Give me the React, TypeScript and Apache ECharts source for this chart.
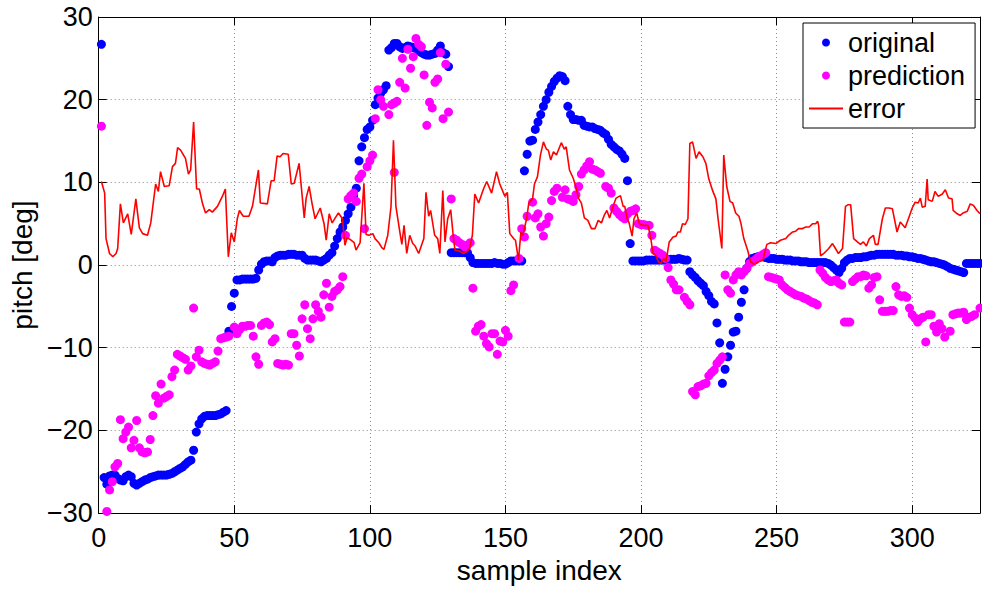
import React, { useEffect, useRef } from "react";
import * as echarts from "echarts";

// x axis ticks and y axis ticks
const xTickStep = 50;
const xMax = 325;
const yMin = -30;
const yMax = 30;
const yTickStep = 10;

const seriesNames = ["original", "prediction", "error"];

// original pitch, samples 1..325
const original: number[] = [
  26.7, -25.7, -26.5, -25.5, -25.4, -25.4, -25.8, -26.0, -26.1, -25.6,
  -25.4, -25.6, -26.4, -26.6, -26.4, -26.2, -26.0, -25.9, -25.7, -25.6,
  -25.5, -25.4, -25.4, -25.4, -25.4, -25.3, -25.2, -25.0, -24.8, -24.6,
  -24.4, -24.1, -23.8, -23.6, -22.4, -20.2, -19.2, -18.6, -18.3, -18.2,
  -18.2, -18.2, -18.2, -18.1, -18.0, -17.8, -17.6, -8.0, -5.0, -3.4,
  -1.8, -1.8, -1.7, -1.7, -1.7, -1.7, -1.7, -1.6, -0.6, 0.1,
  0.4, 0.5, 0.5, 0.4, 0.9, 1.1, 1.2, 1.2, 1.2, 1.3,
  1.3, 1.3, 1.2, 1.2, 1.2, 0.8, 0.6, 0.6, 0.6, 0.6,
  0.5, 0.4, 0.6, 0.8, 1.2, 1.5, 2.3, 3.2, 4.0, 4.6,
  5.4, 6.2, 7.0, 8.4, 9.3, 12.6, 14.3, 15.4, 16.4, 16.7,
  17.5, 19.4, 20.2, 20.8, 21.2, 21.7, 26.0, 26.3, 26.8, 26.8,
  26.4, 26.2, 26.3, 26.5, 26.4, 26.3, 26.2, 25.9, 25.7, 25.5,
  25.4, 25.4, 25.5, 25.6, 26.0, 26.5, 25.7, 25.5, 24.0, 1.5,
  1.5, 1.5, 1.5, 1.5, 1.5, 1.5, 0.9, 0.3, 0.2, 0.2,
  0.2, 0.2, 0.2, 0.2, 0.2, 0.3, 0.2, 0.2, 0.1, 0.1,
  0.3, 0.5, 0.5, 0.5, 0.5, 0.5, 11.4, 13.4, 15.0, 15.1,
  16.4, 17.3, 18.2, 19.2, 20.0, 20.9, 21.6, 22.2, 22.6, 22.9,
  22.8, 22.3, 19.2, 18.2, 17.6, 17.6, 17.5, 17.5, 16.9, 16.8,
  16.7, 16.7, 16.5, 16.4, 16.3, 16.0, 15.8, 15.2, 14.6, 14.3,
  14.0, 13.8, 13.4, 12.9, 10.2, 2.6, 0.5, 0.5, 0.5, 0.5,
  0.5, 0.6, 0.6, 0.6, 0.6, 0.6, 0.6, 0.6, 0.6, 0.7,
  0.7, 0.7, 0.7, 0.8, 0.7, 0.6, 0.6, -0.8, -1.2, -1.5,
  -1.9, -2.2, -2.5, -3.2, -3.7, -4.4, -4.7, -7.0, -9.4, -14.3,
  -12.6, -11.1, -9.7, -8.1, -8.0, -6.3, -4.5, -3.0, -0.4, 0.4,
  0.8, 0.9, 1.0, 1.0, 1.0, 0.9, 0.8, 0.8, 0.8, 0.7,
  0.7, 0.7, 0.6, 0.6, 0.6, 0.5, 0.5, 0.5, 0.4, 0.4,
  0.4, 0.3, 0.3, 0.3, 0.3, 0.3, 0.3, 0.3, 0.2, 0.0,
  -0.3, -0.6, -0.9, -0.4, 0.3, 0.6, 0.8, 0.8, 0.9, 0.9,
  0.9, 1.0, 1.0, 1.1, 1.2, 1.2, 1.3, 1.3, 1.3, 1.3,
  1.3, 1.3, 1.3, 1.2, 1.2, 1.2, 1.1, 1.1, 1.0, 1.0,
  0.9, 0.8, 0.8, 0.7, 0.6, 0.5, 0.4, 0.4, 0.3, 0.2,
  0.1, 0.0, -0.2, -0.4, -0.5, -0.6, -0.7, -0.8, -0.9, 0.2,
  0.2, 0.2, 0.2, 0.2, 0.2,
];

// prediction: [sample index, pitch]
const prediction: [number, number][] = [
  [1, 16.8], [3, -29.8], [4, -27.2], [5, -26.2], [6, -24.4], [7, -24.0], [8, -18.7], [9, -21.0], [10, -20.2],
  [11, -19.6], [12, -22.1], [13, -21.2], [14, -18.8], [15, -22.1], [16, -22.6], [17, -22.7], [18, -22.6],
  [19, -21.1], [20, -18.2], [21, -15.8], [22, -16.7], [23, -14.4], [24, -16.1], [25, -15.9], [26, -15.7],
  [27, -13.5], [28, -12.7], [29, -10.8], [30, -11.0], [31, -11.2], [32, -11.4], [33, -12.7], [34, -12.2],
  [35, -5.2], [36, -11.1], [37, -10.3], [38, -11.7], [39, -11.9], [40, -12.0], [41, -12.1], [42, -11.9],
  [43, -11.7], [44, -10.4], [45, -8.9], [46, -8.8], [47, -8.7], [48, -8.6], [50, -7.5], [51, -8.3],
  [52, -7.8], [53, -7.4], [54, -7.4], [55, -7.3], [56, -7.3], [57, -8.6], [58, -11.1], [59, -12.0],
  [60, -7.3], [61, -7.0], [62, -6.9], [63, -7.2], [64, -9.3], [65, -8.9], [66, -11.9], [67, -12.0],
  [68, -12.1], [69, -12.0], [70, -12.1], [71, -8.3], [72, -8.3], [73, -9.7], [74, -11.0], [75, -6.5],
  [76, -4.8], [77, -7.7], [78, -8.9], [79, -6.5], [80, -4.8], [81, -5.6], [82, -6.3], [83, -3.6],
  [84, -2.2], [85, -5.1], [86, -3.8], [87, -3.2], [88, -3.0], [89, -2.6], [90, -1.4], [91, 3.6],
  [92, 8.0], [93, 8.4], [94, 8.7], [95, 7.7], [96, 10.5], [97, 11.0], [98, 4.4], [99, 11.9],
  [100, 12.6], [101, 13.3], [102, 17.7], [103, 21.2], [104, 20.0], [105, 19.2], [107, 18.2], [108, 19.4],
  [109, 11.2], [109, 19.6], [110, 19.8], [111, 22.1], [112, 25.0], [113, 21.4], [114, 26.1], [115, 23.8],
  [116, 25.2], [117, 27.4], [118, 26.7], [119, 26.4], [120, 23.0], [121, 16.9], [122, 19.7], [123, 19.0],
  [124, 22.1], [125, 22.5], [126, 25.7], [127, 17.7], [128, 24.3], [129, 18.5], [130, 8.0], [131, 3.2],
  [132, 3.0], [133, 2.7], [134, 2.5], [135, 2.2], [136, 2.4], [137, 2.7], [138, -2.8], [139, -8.0],
  [140, -7.4], [141, -7.2], [142, -8.6], [143, -9.5], [144, -9.9], [145, -8.3], [146, -8.3], [147, -10.8],
  [148, -9.2], [149, -9.3], [150, -7.9], [151, -8.6], [152, -3.1], [153, -2.4], [155, 0.8], [156, 4.4],
  [157, 3.4], [158, 5.9], [160, 7.6], [161, 5.7], [162, 6.2], [163, 4.6], [164, 3.5], [165, 5.0],
  [166, 5.8], [167, 7.8], [168, 8.9], [169, 9.3], [171, 8.2], [172, 9.1], [173, 8.0], [174, 7.9],
  [175, 7.7], [176, 8.5], [177, 9.5], [178, 11.0], [179, 11.5], [180, 12.0], [181, 12.5], [182, 11.6],
  [183, 11.5], [184, 11.3], [185, 11.1], [187, 9.5], [188, 9.3], [189, 8.7], [190, 6.9], [191, 6.5],
  [192, 6.1], [193, 5.8], [194, 5.6], [195, 6.2], [196, 6.5], [197, 6.6], [198, 6.8], [199, 5.0],
  [200, 4.9], [201, 4.9], [202, 4.8], [203, 4.8], [204, 3.6], [205, 1.8], [206, 1.6], [207, 1.4],
  [208, 1.2], [209, 0.8], [210, -0.3], [211, -1.8], [212, -2.3], [213, -3.0], [214, -3.0], [216, -3.9],
  [217, -4.4], [218, -4.8], [219, -15.3], [220, -15.7], [221, -14.7], [222, -14.6], [223, -14.4], [224, -14.3],
  [225, -13.4], [226, -13.0], [227, -12.7], [228, -11.9], [229, -11.5], [230, -11.1], [231, -1.2], [232, -3.0],
  [233, -3.4], [234, -1.8], [235, -1.2], [236, -0.8], [237, -1.2], [238, -0.8], [239, -0.4], [240, 0.2],
  [241, 0.4], [242, 0.6], [243, 0.9], [244, 1.1], [245, 1.3], [246, 1.5], [247, -1.4], [248, -1.5],
  [249, -1.6], [250, -1.7], [251, -1.8], [252, -2.4], [253, -2.7], [254, -3.0], [255, -3.2], [256, -3.4],
  [257, -3.6], [258, -3.7], [259, -3.8], [260, -4.0], [261, -4.1], [262, -4.3], [263, -4.5], [264, -4.6],
  [265, -4.8], [266, -0.6], [267, -1.0], [268, -1.5], [269, -1.8], [270, -2.0], [271, -1.9], [272, -1.8],
  [273, -2.2], [274, -2.4], [275, -6.9], [276, -6.9], [277, -6.9], [278, -2.0], [279, -1.7], [280, -1.4],
  [281, -1.4], [282, -1.2], [283, -1.3], [284, -2.8], [285, -2.4], [286, -1.5], [287, -1.4], [288, -4.2],
  [289, -5.6], [290, -5.6], [291, -5.6], [292, -5.5], [293, -5.5], [294, -2.6], [295, -3.6], [296, -3.8],
  [297, -3.7], [298, -3.9], [299, -5.2], [300, -6.0], [301, -6.4], [302, -6.9], [303, -6.5], [304, -6.3],
  [305, -9.3], [306, -6.0], [307, -6.0], [308, -7.4], [309, -8.1], [310, -7.1], [311, -7.7], [312, -8.7],
  [314, -8.0], [315, -6.0], [316, -5.9], [317, -5.8], [318, -5.8], [319, -5.7], [320, -6.6], [321, -6.3],
  [322, -6.2], [323, -6.0], [325, -5.2],
];

// error: [sample index, value]
const errorLine: [number, number][] = [
  [1, 10.1], [2.2, 8.7], [2.7, 3.2], [4, 1.4], [5.2, 1.0], [6.4, 1.4], [7, 2.0], [8, 7.4], [9.1, 5.1],
  [10.7, 6.2], [12, 3.7], [13.7, 8.0], [15, 4.5], [16.2, 3.8], [18, 3.6], [19.2, 5.1], [21, 9.8], [22, 8.9],
  [22.8, 11.3], [24.2, 9.5], [26, 9.6], [27.2, 11.9], [28.3, 12.3], [29.1, 14.2], [30.2, 13.9], [32, 12.9],
  [33.1, 11.0], [33.9, 11.5], [35, 17.3], [36.1, 9.2], [37.1, 9.2], [38.3, 7.4], [39.4, 6.3], [40.8, 6.7],
  [41.9, 6.4], [43.8, 7.1], [45.6, 8.3], [46.7, 9.2], [47.8, 1.0], [48.9, 3.9], [50, 2.8], [51.1, 5.6],
  [51.9, 6.6], [53.3, 5.9], [55.4, 5.9], [56.7, 7.1], [58.9, 11.5], [59.6, 7.5], [62.2, 7.4], [63.6, 10.2],
  [64.7, 10.2], [65.8, 13.2], [66.9, 13.1], [68, 13.5], [69.9, 13.4], [71, 9.8], [72.1, 9.9], [73.9, 12.3],
  [75.8, 5.7], [76.5, 8.1], [77.6, 9.5], [78.7, 7.4], [79.8, 5.6], [81.7, 6.9], [83.1, 5.0], [83.9, 3.0],
  [85, 6.2], [86.1, 5.1], [87.4, 5.8], [88.4, 6.3], [89.9, 5.6], [90.8, 2.4], [91.6, 3.3], [92.7, 3.1],
  [94.2, 2.7], [94.9, 1.8], [96.4, 2.7], [97.8, 9.9], [98.6, 3.7], [99.7, 3.6], [101.1, 3.8], [101.9, 3.2],
  [103.3, 2.7], [104.4, 2.1], [105.2, 1.9], [106.6, 3.6], [107.8, 7.1], [108.7, 15.1], [109.6, 7.1],
  [111.1, 3.9], [111.8, 2.5], [112.6, 4.8], [113.6, 1.4], [114.7, 3.6], [115.8, 2.6], [116.7, 2.3],
  [118, 1.4], [119.9, 3.2], [120.7, 8.8], [121.7, 5.9], [122.4, 6.6], [123.9, 3.6], [125, 3.2],
  [125.8, 1.4], [126.9, 9.0], [127.7, 2.8], [128.7, 5.6], [129.8, 6.7], [130.9, 3.0], [131.4, 1.8],
  [133.1, 1.7], [134.4, 1.4], [135.7, 1.6], [136.8, 2.0], [137.8, 3.6], [138.7, 8.6], [140.1, 7.5],
  [141.9, 9.2], [143.1, 10.1], [144.9, 8.7], [146.7, 11.3], [147.9, 9.8], [149.8, 8.3], [150.7, 8.8],
  [151.6, 3.8], [153, 3.2], [153.7, 3.0], [154.8, 0.6], [155.7, 4.0], [156.4, 3.6], [157.8, 5.6],
  [158.6, 7.5], [160, 8.0], [160.7, 9.8], [161.8, 10.7], [162.9, 13.3], [164, 14.9], [165.1, 14.0],
  [165.8, 13.9], [166.7, 12.7], [167.7, 13.7], [168.8, 13.3], [170.6, 14.8], [171.7, 14.0], [172.4, 14.3],
  [173.6, 11.5], [175, 10.5], [176.1, 9.3], [176.9, 8.1], [178, 7.5], [179.1, 5.7], [180.4, 5.4],
  [181.7, 4.4], [183, 4.4], [184.2, 5.4], [185.4, 5.1], [186.4, 6.0], [187.4, 6.6], [188.4, 5.7],
  [189.7, 7.1], [190.8, 8.1], [192.4, 8.4], [193.4, 7.1], [194, 7.1], [194.9, 5.6], [195.6, 5.1],
  [196.7, 3.5], [197.4, 5.6], [198.4, 6.3], [199.4, 5.0], [200.8, 4.8], [202.6, 4.8], [203.7, 3.0],
  [204.4, 1.4], [205.4, 1.2], [206.4, 0.4], [207.4, 0.2], [208.4, 0.8], [209.2, 0.4], [210.4, 2.8],
  [211.8, 3.4], [212.9, 3.5], [213.6, 4.0], [214.5, 4.0], [215.3, 5.0], [216.3, 4.9], [217.3, 5.6],
  [218, 14.7], [219, 14.9], [220.3, 12.9], [221.4, 13.7], [222.8, 13.1], [223.9, 12.3], [225, 10.4],
  [226.4, 9.0], [227.6, 8.0], [228.4, 5.6], [229.8, 2.0], [230.5, 13.3], [231.6, 9.5], [232.8, 7.7],
  [233.8, 7.5], [234.9, 6.3], [236.1, 5.9], [236.8, 5.1], [237.9, 3.2], [239.4, 1.7], [240.4, 0.4],
  [241.6, 0.1], [243.4, 0.4], [244.9, 0.6], [245.6, 1.5], [246.4, 2.5], [247.8, 2.7], [249.7, 2.6],
  [251.4, 3.0], [253.4, 3.2], [254.4, 3.6], [255.9, 4.0], [257, 4.1], [258.1, 4.4], [259.4, 4.4],
  [260.7, 4.6], [262, 4.6], [263.3, 5.0], [264.4, 5.0], [265.1, 5.3], [265.5, 4.8], [266.2, 1.1],
  [267.4, 1.4], [269.2, 2.0], [270.6, 2.6], [271.7, 2.0], [272.8, 1.4], [274.3, 2.0], [275.4, 7.1],
  [276.4, 7.3], [277.3, 7.3], [278.4, 3.2], [279.8, 2.8], [280.9, 2.5], [282, 2.8], [283.1, 2.3],
  [284.2, 3.2], [285.7, 3.6], [286.4, 2.5], [287.4, 2.5], [289, 5.6], [290.1, 6.9], [291.4, 6.9],
  [292.7, 6.8], [294.4, 4.0], [295.6, 5.2], [297.4, 4.5], [298.6, 5.6], [300, 6.9], [301.1, 7.6],
  [302.2, 7.5], [303, 8.1], [303.7, 7.0], [304.8, 7.1], [305.5, 10.4], [305.9, 7.9], [307.4, 7.7],
  [308.4, 8.9], [309.6, 8.3], [311.1, 8.6], [312.2, 9.1], [313.4, 8.1], [314.7, 8.0], [315.1, 6.6],
  [316.6, 6.2], [317.7, 6.0], [318.8, 6.3], [320.3, 6.5], [321.4, 7.4], [322.6, 7.2], [323.9, 6.6],
  [325, 6.2],
];

const FONT = "'Liberation Sans', Arial, Helvetica, sans-serif";

export default function App() {
  const ref = useRef<HTMLDivElement>(null);
  useEffect(() => {
    if (!ref.current) return;
    const chart = echarts.init(ref.current, null, { renderer: "svg" });
    const axisLineStyle = { color: "#000", width: 1 };
    const minusFmt = (v: number) => String(v).replace("-", "\u2212");
    chart.setOption({
      animation: false,
      backgroundColor: "#fff",
      grid: { left: 96, right: 2, top: 17, bottom: 68, containLabel: false },
      legend: {
        orient: "vertical",
        left: 803,
        top: 23,
        itemWidth: 34,
        itemHeight: 8,
        itemGap: 6,
        padding: [6, 10, 6, 5],
        backgroundColor: "#fff",
        borderColor: "#000",
        borderWidth: 1,
        borderRadius: 0,
        textStyle: { fontSize: 27, color: "#000", fontFamily: FONT },
        data: [
          { name: seriesNames[0], icon: "circle" },
          { name: seriesNames[1], icon: "circle" },
          { name: seriesNames[2], itemStyle: { opacity: 0 } },
        ],
      },
      xAxis: [
        {
          type: "value",
          min: 0,
          max: xMax,
          interval: xTickStep,
          position: "bottom",
          name: "sample index",
          nameLocation: "middle",
          nameGap: 28,
          nameTextStyle: { fontSize: 28, color: "#000", fontFamily: FONT },
          axisLine: { show: true, onZero: false, lineStyle: axisLineStyle },
          axisTick: { show: true, inside: true, length: 8, lineStyle: axisLineStyle },
          axisLabel: {
            fontSize: 27,
            color: "#000",
            fontFamily: FONT,
            margin: 11,
            showMaxLabel: false,
          },
          splitLine: { show: true, lineStyle: { color: "#8a8a8a", type: [1, 3], width: 1 } },
        },
        {
          type: "value",
          min: 0,
          max: xMax,
          interval: xTickStep,
          position: "top",
          axisLine: { show: true, onZero: false, lineStyle: axisLineStyle },
          axisTick: { show: true, inside: true, length: 8, lineStyle: axisLineStyle },
          axisLabel: { show: false },
          splitLine: { show: false },
        },
      ],
      yAxis: [
        {
          type: "value",
          min: yMin,
          max: yMax,
          interval: yTickStep,
          position: "left",
          name: "pitch [deg]",
          nameLocation: "middle",
          nameGap: 54,
          nameTextStyle: { fontSize: 28, color: "#000", fontFamily: FONT },
          axisLine: { show: true, onZero: false, lineStyle: axisLineStyle },
          axisTick: { show: true, inside: true, length: 8, lineStyle: axisLineStyle },
          axisLabel: { fontSize: 27, color: "#000", fontFamily: FONT, margin: 6, formatter: minusFmt },
          splitLine: { show: true, lineStyle: { color: "#8a8a8a", type: [1, 3], width: 1 } },
        },
        {
          type: "value",
          min: yMin,
          max: yMax,
          interval: yTickStep,
          position: "right",
          axisLine: { show: true, onZero: false, lineStyle: axisLineStyle },
          axisTick: { show: true, inside: true, length: 8, lineStyle: axisLineStyle },
          axisLabel: { show: false },
          splitLine: { show: false },
        },
      ],
      series: [
        {
          name: seriesNames[0],
          type: "scatter",
          xAxisIndex: 0,
          yAxisIndex: 0,
          symbol: "circle",
          symbolSize: 9,
          itemStyle: { color: "#0000ff", opacity: 1 },
          data: original.map((v, i) => [i + 1, v]),
        },
        {
          name: seriesNames[1],
          type: "scatter",
          xAxisIndex: 0,
          yAxisIndex: 0,
          symbol: "circle",
          symbolSize: 9,
          itemStyle: { color: "#ff00ff", opacity: 1 },
          data: prediction,
        },
        {
          name: seriesNames[2],
          type: "line",
          xAxisIndex: 0,
          yAxisIndex: 0,
          showSymbol: false,
          symbol: "none",
          lineStyle: { color: "#ff0000", width: 1.6 },
          itemStyle: { color: "#ff0000" },
          data: errorLine,
        },
      ],
    });
    return () => chart.dispose();
  }, []);
  return (
    <div
      ref={ref}
      style={{ position: "absolute", left: 0, top: 0, width: 982, height: 589, background: "#fff" }}
    />
  );
}
